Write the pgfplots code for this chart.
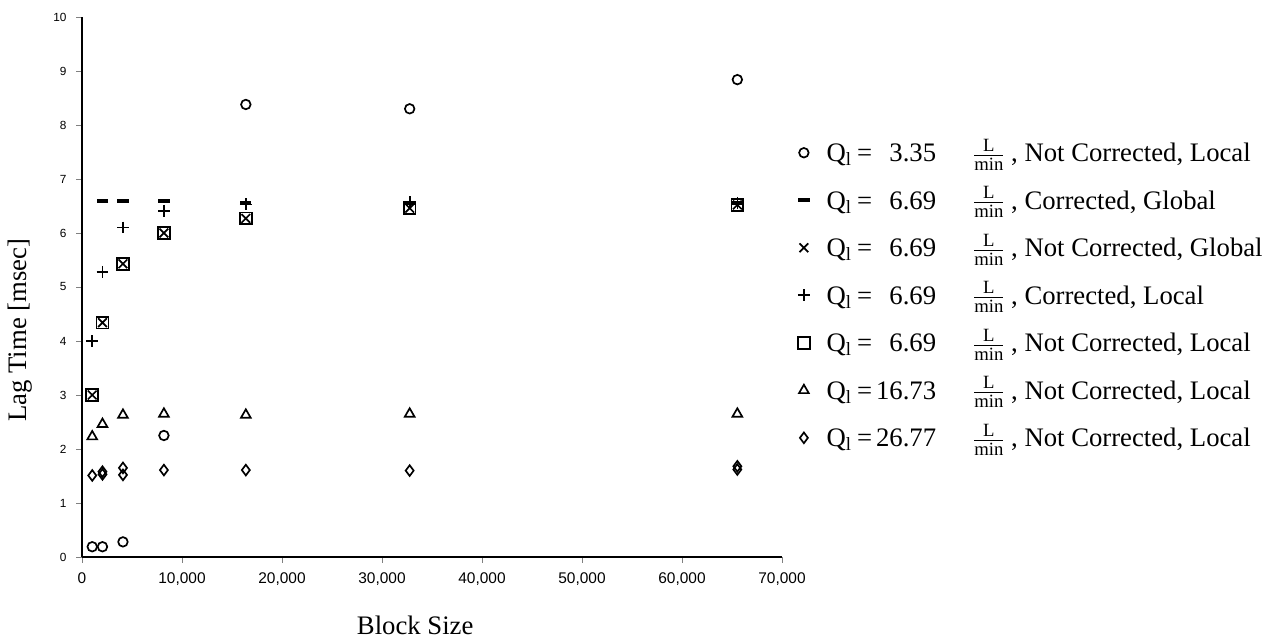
\documentclass[border=0pt]{standalone}
\usepackage{fontspec}
\setmainfont{Liberation Serif}
\setsansfont{Liberation Sans}
\usepackage{amsmath}
\usepackage{pgfplots}
\pgfplotsset{compat=1.18}
\newcommand{\Qe}[1]{\rule[-6pt]{0pt}{17.4pt}\hspace{4pt}Q\textsubscript{l}\,=\makebox[2.4em][r]{#1}\hspace{1.3em}$\frac{\text{L}}{\text{min}}$\,,\ }
\begin{document}
\begin{tikzpicture}
\path[use as bounding box] (-1.025cm,-1.0375cm) rectangle (14.975cm,6.9625cm);
\begin{axis}[
  scale only axis, width=8.75cm, height=6.75cm,
  at={(0,0)}, anchor=south west,
  xmin=0, xmax=70000, ymin=0, ymax=10,
  axis lines*=left, tick align=outside,
  major tick length=0.07cm,
  xtick={0,10000,...,70000}, ytick={0,1,...,10},
  scaled x ticks=false,
  /pgf/number format/assume math mode=true,
  xticklabel style={font=\sffamily\fontsize{5.5}{6}\selectfont, /pgf/number format/1000 sep={,}},
  yticklabel style={font=\sffamily\fontsize{4.2}{5}\selectfont},
  xlabel={Block Size},
  ylabel={Lag Time [msec]},
  xlabel style={font=\fontsize{9.5}{11}\selectfont, at={(axis description cs:0.476,-0.126)}, anchor=center},
  ylabel style={font=\fontsize{9.5}{11}\selectfont, at={(axis description cs:-0.0886,0.42)}, anchor=center},
  legend style={at={(1.01,0.494)}, anchor=west, draw=none, fill=none,
    font=\fontsize{9.5}{11}\selectfont, row sep=0pt},
  legend image post style={yshift=-1.8pt},
  legend cell align=left,
  every axis plot/.append style={only marks, black, line width=0.6pt},
]
\addplot[mark=o, mark size=1.7pt] coordinates {(1024,0.19)(2048,0.19)(4096,0.28)(8192,2.25)(16384,8.38)(32768,8.3)(65536,8.84)};
\addlegendentry{\Qe{3.35}Not Corrected, Local}
\addplot[mark=-, mark size=2pt, line width=1.4pt] coordinates {(2048,6.6)(4096,6.6)(8192,6.59)(16384,6.55)(32768,6.56)(65536,6.56)};
\addlegendentry{\Qe{6.69}Corrected, Global}
\addplot[mark=x, mark size=2.2pt] coordinates {(1024,3.0)(2048,4.34)(4096,5.43)(8192,6.0)(16384,6.27)(32768,6.46)(65536,6.52)};
\addlegendentry{\Qe{6.69}Not Corrected, Global}
\addplot[mark=+, mark size=2.1pt] coordinates {(1024,4.0)(2048,5.28)(4096,6.1)(8192,6.41)(16384,6.53)(32768,6.57)(65536,6.56)};
\addlegendentry{\Qe{6.69}Corrected, Local}
\addplot[mark=square, mark size=2.1pt] coordinates {(1024,3.0)(2048,4.34)(4096,5.43)(8192,6.0)(16384,6.27)(32768,6.46)(65536,6.52)};
\addlegendentry{\Qe{6.69}Not Corrected, Local}
\addplot[mark=triangle, mark size=2pt] coordinates {(1024,2.23)(2048,2.46)(4096,2.63)(8192,2.65)(16384,2.63)(32768,2.65)(65536,2.65)};
\addlegendentry{\Qe{16.73}Not Corrected, Local}
\addplot[mark=diamond, mark size=1.9pt] coordinates {(1024,1.51)(2048,1.53)(2048,1.58)(4096,1.52)(4096,1.65)(8192,1.61)(16384,1.61)(32768,1.6)(65536,1.62)(65536,1.68)};
\addlegendentry{\Qe{26.77}Not Corrected, Local}
\end{axis}
\end{tikzpicture}
\end{document}
